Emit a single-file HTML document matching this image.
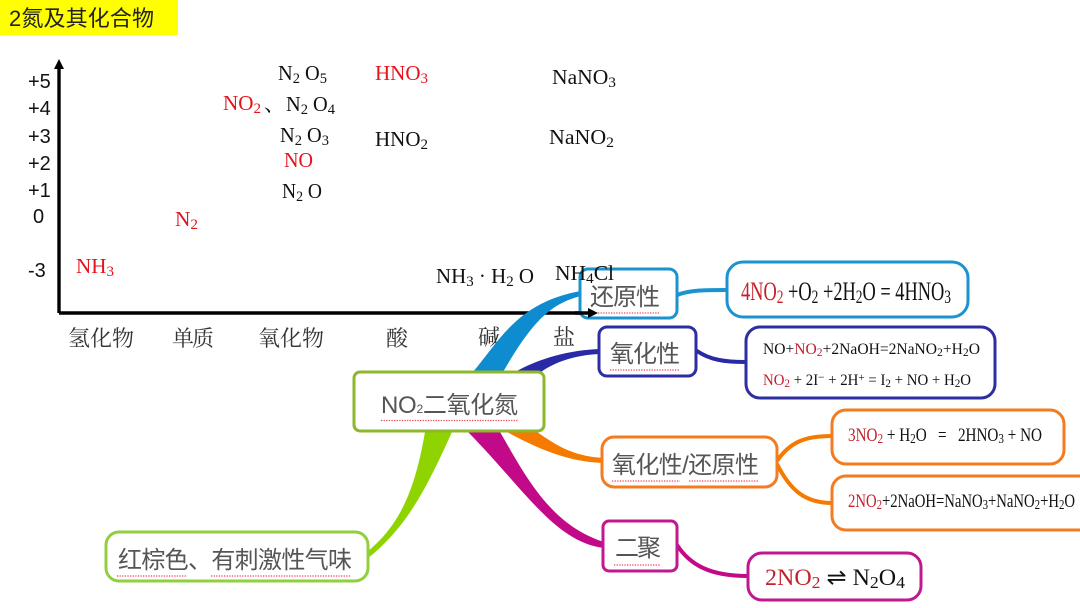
<!DOCTYPE html>
<html lang="zh">
<head>
<meta charset="utf-8">
<style>
html,body{margin:0;padding:0;background:#fff;width:1080px;height:608px;overflow:hidden}
svg{display:block;filter:blur(.35px)}
.s{font-family:"Liberation Serif","Noto Serif CJK SC",serif;font-size:21px;fill:#111}
.r{fill:#e3141c}
.rd{fill:#c4202c}
.c{font-family:"Liberation Sans","Noto Sans CJK SC",sans-serif;font-size:24px;fill:#555;font-weight:400}
.a{font-family:"Noto Serif CJK SC","Liberation Serif",serif;font-size:22px;fill:#333}
.n{font-family:"Liberation Sans",sans-serif;font-size:20px;fill:#111}
.e{font-family:"Liberation Serif",serif;fill:#111}
.b{fill:#fff;stroke-width:3}
.u{stroke:#e8485a;stroke-width:1.2;stroke-dasharray:1.3 1.3;fill:none}
.l{fill:none;stroke-linecap:round}
</style>
</head>
<body>
<svg width="1080" height="608" viewBox="0 0 1080 608" xmlns="http://www.w3.org/2000/svg">
<rect x="0" y="0" width="178" height="35" fill="#ffff00"/>
<text x="9" y="26" textLength="145" lengthAdjust="spacing" style="font-family:'Liberation Sans','Noto Sans CJK SC',sans-serif;font-size:22px;fill:#222">2氮及其化合物</text>

<path d="M59 313V64" stroke="#000" stroke-width="3.4"/>
<path d="M59 59L54 69H64Z" fill="#000"/>
<path d="M59 313H592" stroke="#000" stroke-width="3.4"/>

<text class="n" x="28" y="88">+5</text>
<text class="n" x="28" y="115">+4</text>
<text class="n" x="28" y="143">+3</text>
<text class="n" x="28" y="170">+2</text>
<text class="n" x="28" y="197">+1</text>
<text class="n" x="33" y="223">0</text>
<text class="n" x="28" y="277">-3</text>

<text class="s" x="278" y="80" textLength="49" lengthAdjust="spacingAndGlyphs">N<tspan dy="3" font-size="15">2</tspan><tspan dy="-3"> O</tspan><tspan dy="3" font-size="15">5</tspan></text>
<text class="s r" x="223" y="110" textLength="38" lengthAdjust="spacingAndGlyphs">NO<tspan dy="3" font-size="15">2</tspan></text>
<text class="s" x="264" y="111" font-size="20">、</text>
<text class="s" x="286" y="111" textLength="49" lengthAdjust="spacingAndGlyphs">N<tspan dy="3" font-size="15">2</tspan><tspan dy="-3"> O</tspan><tspan dy="3" font-size="15">4</tspan></text>
<text class="s" x="280" y="142" textLength="49" lengthAdjust="spacingAndGlyphs">N<tspan dy="3" font-size="15">2</tspan><tspan dy="-3"> O</tspan><tspan dy="3" font-size="15">3</tspan></text>
<text class="s r" x="284" y="167" textLength="29" lengthAdjust="spacingAndGlyphs">NO</text>
<text class="s" x="282" y="198" textLength="40" lengthAdjust="spacingAndGlyphs">N<tspan dy="3" font-size="15">2</tspan><tspan dy="-3"> O</tspan></text>
<text class="s r" x="175" y="226" textLength="23" lengthAdjust="spacingAndGlyphs">N<tspan dy="3" font-size="15">2</tspan></text>
<text class="s r" x="76" y="273" textLength="38" lengthAdjust="spacingAndGlyphs">NH<tspan dy="3" font-size="15">3</tspan></text>
<text class="s r" x="375" y="80" textLength="53" lengthAdjust="spacingAndGlyphs">HNO<tspan dy="3" font-size="15">3</tspan></text>
<text class="s" x="552" y="84" textLength="64" lengthAdjust="spacingAndGlyphs">NaNO<tspan dy="3" font-size="15">3</tspan></text>
<text class="s" x="375" y="146" textLength="53" lengthAdjust="spacingAndGlyphs">HNO<tspan dy="3" font-size="15">2</tspan></text>
<text class="s" x="549" y="144" textLength="65" lengthAdjust="spacingAndGlyphs">NaNO<tspan dy="3" font-size="15">2</tspan></text>
<text class="s" x="436" y="283" textLength="98" lengthAdjust="spacingAndGlyphs">NH<tspan dy="3" font-size="15">3</tspan><tspan dy="-3"> · H</tspan><tspan dy="3" font-size="15">2</tspan><tspan dy="-3"> O</tspan></text>

<text class="a" x="68" y="346" textLength="66">氢化物</text>
<text class="a" x="172" y="346" textLength="42">单质</text>
<text class="a" x="258" y="346" textLength="66">氧化物</text>
<text class="a" x="386" y="346">酸</text>
<text class="a" x="478" y="345">碱</text>
<text class="a" x="553" y="345">盐</text>

<!-- branches -->
<path d="M473 372C500 340 518 302 581 291L581 296C548 304 530 326 503 372Z" fill="#0f8ccf"/>
<path d="M515 372C540 358 570 350 600 349L600 354C575 355 555 362 541 372Z" fill="#2a2aa6"/>
<path d="M507 432C540 450 570 462 603 463L603 458C575 456 560 448 537 432Z" fill="#f57a00"/>
<path d="M500 432C525 475 550 525 604 542L604 548C555 542 525 490 468 432Z" fill="#c20a88"/>
<path d="M452 432C430 480 410 525 368 558L367 552C400 525 415 490 425 432Z" fill="#8fd400"/>

<path class="l" d="M677 295C690 290 705 290 727 290" stroke="#1b93cf" stroke-width="4"/>
<path class="l" d="M697 351C710 360 725 362 746 362" stroke="#2a2aa6" stroke-width="4"/>
<path class="l" d="M777 461C790 442 805 436 832 436" stroke="#f57a00" stroke-width="4"/>
<path class="l" d="M777 464C790 490 805 503 832 503" stroke="#f57a00" stroke-width="4"/>
<path class="l" d="M677 545C690 565 710 576 748 576" stroke="#c20a88" stroke-width="4"/>

<!-- boxes -->
<rect class="b" x="354" y="372" width="190" height="59" rx="6" stroke="#8db82c" stroke-width="3.5"/>
<text class="c" x="381" y="413" textLength="137" style="font-family:'Liberation Sans','Noto Sans CJK SC',sans-serif">NO<tspan font-size="12">2</tspan>二氧化氮</text>
<path class="u" d="M381 420.500H518"/>

<rect class="b" x="106" y="532" width="262" height="49" rx="13" stroke="#92cf3f"/>
<text class="c" x="118" y="568" textLength="234">红棕色、有刺激性气味</text>
<path class="u" d="M117 576H186M211 576H351"/>

<rect class="b" x="580" y="269" width="97" height="49" rx="8" stroke="#1b93cf"/>
<text class="c" x="590" y="305" textLength="70">还原性</text>
<path class="u" d="M598 313H659"/>
<text class="s" x="555" y="280" textLength="59" lengthAdjust="spacingAndGlyphs">NH<tspan dy="3" font-size="15">4</tspan><tspan dy="-3">Cl</tspan></text>
<path d="M575 313H592" stroke="#000" stroke-width="3.4"/>
<path d="M598 313L588 308V318Z" fill="#000"/>

<rect class="b" x="727" y="262" width="241" height="55" rx="16" stroke="#1b93cf"/>
<text class="e" x="741" y="300" font-size="26" textLength="210" lengthAdjust="spacingAndGlyphs"><tspan class="rd">4NO<tspan dy="3" font-size="19">2</tspan></tspan><tspan dy="-3"> +O</tspan><tspan dy="3" font-size="19">2</tspan><tspan dy="-3"> +2H</tspan><tspan dy="3" font-size="19">2</tspan><tspan dy="-3">O = 4HNO</tspan><tspan dy="3" font-size="19">3</tspan></text>

<rect class="b" x="599" y="327" width="97" height="49" rx="8" stroke="#2e2ea0"/>
<text class="c" x="610" y="362" textLength="70">氧化性</text>
<path class="u" d="M610 370H680"/>

<rect class="b" x="746" y="327" width="249" height="71" rx="14" stroke="#2e2ea0"/>
<text class="e" x="763" y="354" font-size="16" textLength="217" lengthAdjust="spacingAndGlyphs">NO+<tspan class="rd">NO<tspan dy="2" font-size="12">2</tspan></tspan><tspan dy="-2">+2NaOH=2NaNO</tspan><tspan dy="2" font-size="12">2</tspan><tspan dy="-2">+H</tspan><tspan dy="2" font-size="12">2</tspan><tspan dy="-2">O</tspan></text>
<text class="e" x="763" y="385" font-size="16" textLength="208" lengthAdjust="spacingAndGlyphs"><tspan class="rd">NO<tspan dy="2" font-size="12">2</tspan></tspan><tspan dy="-2"> + 2I</tspan><tspan dy="-4" font-size="12">−</tspan><tspan dy="4"> + 2H</tspan><tspan dy="-4" font-size="12">+</tspan><tspan dy="4"> = I</tspan><tspan dy="2" font-size="12">2</tspan><tspan dy="-2"> + NO + H</tspan><tspan dy="2" font-size="12">2</tspan><tspan dy="-2">O</tspan></text>

<rect class="b" x="602" y="437" width="175" height="50" rx="12" stroke="#f47b20"/>
<text class="c" x="612" y="473" textLength="147">氧化性/还原性</text>
<path class="u" d="M612 481H680M689 481H759"/>

<rect class="b" x="832" y="410" width="232" height="54" rx="14" stroke="#f47b20"/>
<text class="e" x="848" y="441" font-size="19" textLength="194" lengthAdjust="spacingAndGlyphs" xml:space="preserve"><tspan class="rd">3NO<tspan dy="2" font-size="14">2</tspan></tspan><tspan dy="-2"> + H</tspan><tspan dy="2" font-size="14">2</tspan><tspan dy="-2">O   =   2HNO</tspan><tspan dy="2" font-size="14">3</tspan><tspan dy="-2"> + NO</tspan></text>

<rect class="b" x="832" y="476" width="262" height="54" rx="14" stroke="#f47b20"/>
<text class="e" x="848" y="507" font-size="19" textLength="227" lengthAdjust="spacingAndGlyphs"><tspan class="rd">2NO<tspan dy="2" font-size="14">2</tspan></tspan><tspan dy="-2">+2NaOH=NaNO</tspan><tspan dy="2" font-size="14">3</tspan><tspan dy="-2">+NaNO</tspan><tspan dy="2" font-size="14">2</tspan><tspan dy="-2">+H</tspan><tspan dy="2" font-size="14">2</tspan><tspan dy="-2">O</tspan></text>

<rect class="b" x="603" y="521" width="74" height="50" rx="6" stroke="#c0188e"/>
<text class="c" x="615" y="556" textLength="46">二聚</text>
<path class="u" d="M614 565H660"/>

<rect class="b" x="748" y="553" width="173" height="47" rx="14" stroke="#c0188e"/>
<text class="e" x="765" y="585" font-size="23" textLength="140" lengthAdjust="spacingAndGlyphs" style="font-family:'Liberation Serif','DejaVu Sans',serif"><tspan class="rd">2NO<tspan dy="3" font-size="17">2</tspan></tspan><tspan dy="-3"> ⇌ N</tspan><tspan dy="3" font-size="17">2</tspan><tspan dy="-3">O</tspan><tspan dy="3" font-size="17">4</tspan></text>
</svg>
</body>
</html>
